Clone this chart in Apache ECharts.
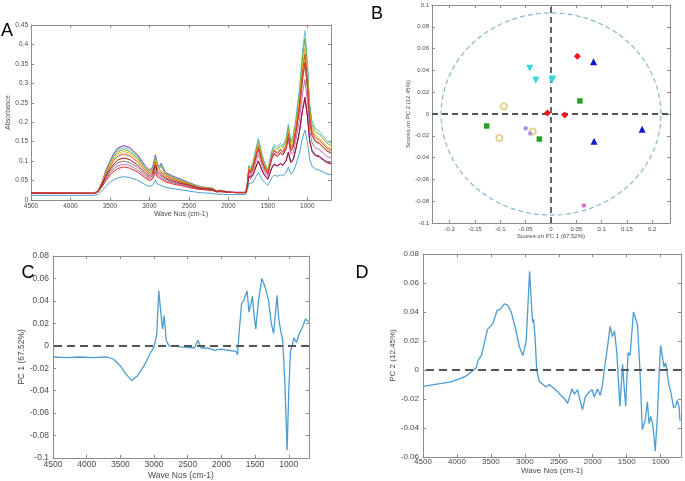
<!DOCTYPE html>
<html lang="en">
<head>
    <title>FTIR spectra and PCA</title>
    <meta charset="utf-8">
    <style>
        html, body { margin: 0; padding: 0; background: #fff; }
        #main { width: 685px; height: 481px; }
    </style>
</head>
<body>
<script type="text/javascript" src="https://cdn.jsdelivr.net/npm/echarts@6/dist/echarts.min.js"></script>
<div id="main"></div>
<script type="text/javascript">
    // ---- A: absorbance spectra (wave numbers, one array per sample) ----
    var wnA = [4500, 3700, 3650, 3600, 3550, 3500, 3450, 3400, 3330, 3250, 3150, 3050, 3000, 2960, 2925, 2900, 2870, 2850, 2800, 2700,
        2600, 2500, 2400, 2350, 2300, 2200, 2150, 2100, 2000, 1900, 1780, 1760, 1740, 1720, 1690, 1650, 1620, 1600, 1570, 1540,
        1500, 1480, 1450, 1420, 1380, 1340, 1310, 1270, 1240, 1210, 1180, 1150, 1100, 1060, 1030, 1000, 970, 940, 900, 850,
        800, 750, 700];
    var specPurple = [0.019, 0.018, 0.024, 0.047, 0.077, 0.100, 0.120, 0.133, 0.140, 0.135, 0.116, 0.087, 0.077, 0.084, 0.116, 0.092, 0.087, 0.094, 0.071, 0.061,
        0.053, 0.045, 0.037, 0.034, 0.033, 0.030, 0.024, 0.025, 0.021, 0.020, 0.020, 0.035, 0.061, 0.055, 0.064, 0.087, 0.101, 0.100, 0.075, 0.064,
        0.054, 0.057, 0.083, 0.093, 0.088, 0.094, 0.090, 0.101, 0.124, 0.098, 0.105, 0.128, 0.176, 0.235, 0.265, 0.220, 0.153, 0.128, 0.116, 0.113,
        0.105, 0.098, 0.094];
    var specCyan = [0.018, 0.017, 0.023, 0.046, 0.074, 0.097, 0.116, 0.129, 0.135, 0.130, 0.112, 0.084, 0.074, 0.082, 0.112, 0.089, 0.084, 0.091, 0.069, 0.059,
        0.051, 0.044, 0.036, 0.034, 0.032, 0.030, 0.023, 0.025, 0.020, 0.019, 0.019, 0.045, 0.089, 0.081, 0.096, 0.133, 0.159, 0.156, 0.115, 0.096,
        0.078, 0.083, 0.127, 0.143, 0.136, 0.146, 0.140, 0.159, 0.196, 0.152, 0.165, 0.203, 0.284, 0.385, 0.435, 0.360, 0.247, 0.203, 0.184, 0.177,
        0.165, 0.152, 0.146];
    var specGreen = [0.018, 0.017, 0.023, 0.045, 0.072, 0.094, 0.112, 0.124, 0.130, 0.125, 0.108, 0.081, 0.072, 0.079, 0.108, 0.086, 0.081, 0.088, 0.067, 0.057,
        0.050, 0.043, 0.035, 0.033, 0.032, 0.029, 0.023, 0.024, 0.020, 0.019, 0.019, 0.044, 0.086, 0.078, 0.092, 0.128, 0.152, 0.149, 0.110, 0.092,
        0.075, 0.080, 0.122, 0.137, 0.130, 0.140, 0.134, 0.152, 0.188, 0.146, 0.158, 0.194, 0.271, 0.367, 0.415, 0.343, 0.235, 0.194, 0.176, 0.170,
        0.158, 0.146, 0.140];
    var specYellow = [0.018, 0.017, 0.023, 0.044, 0.069, 0.090, 0.108, 0.119, 0.125, 0.120, 0.104, 0.079, 0.069, 0.076, 0.104, 0.083, 0.079, 0.084, 0.065, 0.055,
        0.048, 0.041, 0.034, 0.032, 0.031, 0.029, 0.023, 0.024, 0.020, 0.019, 0.019, 0.043, 0.082, 0.074, 0.087, 0.121, 0.143, 0.141, 0.104, 0.087,
        0.072, 0.076, 0.115, 0.130, 0.123, 0.132, 0.127, 0.143, 0.177, 0.138, 0.149, 0.183, 0.256, 0.345, 0.390, 0.323, 0.222, 0.183, 0.166, 0.160,
        0.149, 0.138, 0.132];
    var specOrange = [0.018, 0.017, 0.022, 0.042, 0.066, 0.085, 0.102, 0.113, 0.118, 0.114, 0.098, 0.075, 0.066, 0.072, 0.098, 0.079, 0.075, 0.080, 0.062, 0.053,
        0.046, 0.040, 0.033, 0.031, 0.030, 0.028, 0.022, 0.024, 0.020, 0.019, 0.019, 0.042, 0.079, 0.072, 0.085, 0.117, 0.138, 0.136, 0.101, 0.085,
        0.070, 0.074, 0.112, 0.126, 0.119, 0.128, 0.122, 0.138, 0.171, 0.133, 0.144, 0.176, 0.246, 0.332, 0.375, 0.311, 0.214, 0.176, 0.160, 0.155,
        0.144, 0.133, 0.128];
    var specDarkRed = [0.018, 0.017, 0.022, 0.040, 0.061, 0.079, 0.093, 0.103, 0.108, 0.104, 0.090, 0.069, 0.061, 0.067, 0.090, 0.073, 0.069, 0.074, 0.057, 0.049,
        0.043, 0.038, 0.032, 0.030, 0.029, 0.027, 0.022, 0.023, 0.020, 0.019, 0.019, 0.034, 0.060, 0.055, 0.063, 0.085, 0.100, 0.098, 0.074, 0.063,
        0.053, 0.056, 0.082, 0.091, 0.087, 0.093, 0.089, 0.100, 0.122, 0.096, 0.103, 0.125, 0.173, 0.231, 0.260, 0.216, 0.151, 0.125, 0.114, 0.111,
        0.103, 0.096, 0.093];
    var specBrown = [0.018, 0.017, 0.021, 0.038, 0.057, 0.073, 0.087, 0.096, 0.100, 0.096, 0.084, 0.064, 0.057, 0.062, 0.084, 0.068, 0.064, 0.069, 0.054, 0.046,
        0.041, 0.036, 0.030, 0.029, 0.028, 0.026, 0.021, 0.022, 0.020, 0.019, 0.019, 0.040, 0.075, 0.068, 0.080, 0.110, 0.130, 0.128, 0.095, 0.080,
        0.066, 0.070, 0.105, 0.118, 0.112, 0.120, 0.115, 0.130, 0.160, 0.125, 0.135, 0.165, 0.230, 0.310, 0.350, 0.290, 0.200, 0.165, 0.150, 0.145,
        0.135, 0.125, 0.120];
    var specRed = [0.018, 0.017, 0.021, 0.034, 0.050, 0.063, 0.074, 0.081, 0.085, 0.082, 0.072, 0.056, 0.050, 0.054, 0.072, 0.059, 0.056, 0.059, 0.047, 0.041,
        0.037, 0.032, 0.028, 0.027, 0.026, 0.024, 0.021, 0.021, 0.020, 0.019, 0.019, 0.040, 0.076, 0.069, 0.081, 0.111, 0.132, 0.130, 0.096, 0.081,
        0.067, 0.071, 0.106, 0.120, 0.113, 0.122, 0.116, 0.132, 0.162, 0.127, 0.137, 0.167, 0.233, 0.314, 0.355, 0.294, 0.203, 0.167, 0.152, 0.147,
        0.137, 0.127, 0.122];
    var specPink = [0.018, 0.017, 0.021, 0.036, 0.053, 0.068, 0.080, 0.088, 0.092, 0.089, 0.077, 0.060, 0.053, 0.058, 0.077, 0.063, 0.060, 0.064, 0.050, 0.044,
        0.039, 0.034, 0.029, 0.027, 0.027, 0.025, 0.021, 0.022, 0.020, 0.019, 0.019, 0.037, 0.068, 0.062, 0.073, 0.099, 0.117, 0.115, 0.086, 0.073,
        0.060, 0.064, 0.115, 0.128, 0.120, 0.130, 0.122, 0.132, 0.155, 0.120, 0.121, 0.147, 0.204, 0.275, 0.310, 0.257, 0.178, 0.147, 0.134, 0.130,
        0.121, 0.112, 0.108];
    var specLightBlue = [0.012, 0.012, 0.015, 0.024, 0.035, 0.045, 0.052, 0.057, 0.060, 0.058, 0.051, 0.039, 0.035, 0.038, 0.051, 0.041, 0.039, 0.042, 0.033, 0.029,
        0.026, 0.023, 0.020, 0.019, 0.018, 0.017, 0.015, 0.015, 0.014, 0.014, 0.014, 0.025, 0.042, 0.039, 0.045, 0.060, 0.070, 0.069, 0.052, 0.045,
        0.038, 0.040, 0.057, 0.064, 0.061, 0.065, 0.062, 0.070, 0.085, 0.067, 0.072, 0.087, 0.120, 0.160, 0.180, 0.150, 0.105, 0.087, 0.080, 0.077,
        0.072, 0.067, 0.065];

    // ---- B: PCA scores [PC1, PC2] per group ----
    var scoresRedDiamond = [[0.052, 0.053], [-0.007, 0.001], [0.027, -0.001]];
    var scoresBlueTriangle = [[0.084, 0.048], [0.085, -0.025], [0.180, -0.014]];
    var scoresCyanTriangle = [[-0.042, 0.042], [-0.030, 0.031], [0.002, 0.031], [0.003, 0.032]];
    var scoresGreenSquare = [[0.057, 0.012], [-0.127, -0.011], [-0.023, -0.023]];
    var scoresYellowCircle = [[-0.093, 0.007], [-0.036, -0.016], [-0.102, -0.022]];
    var scoresLilac = [[-0.050, -0.013], [-0.041, -0.018]];
    var scoresPink = [[0.065, -0.084]];
    var ellipseRadii = [0.217, 0.0927];   // 95% limit, PC1 / PC2

    // ---- C / D: loadings ----
    var wnC = [4500, 4300, 4100, 3900, 3700, 3600, 3500, 3420, 3330, 3250, 3150, 3050, 3000, 2960, 2930, 2900, 2875, 2850, 2820, 2780,
        2600, 2400, 2350, 2300, 2200, 2180, 2100, 2000, 1900, 1780, 1760, 1740, 1700, 1670, 1620, 1590, 1540, 1520, 1490, 1450,
        1400, 1380, 1340, 1300, 1260, 1225, 1175, 1150, 1120, 1090, 1060, 1025, 1000, 975, 950, 925, 885, 850, 800, 785,
        750, 720, 700];
    var pc1Loading = [-0.010, -0.0105, -0.0100, -0.0105, -0.0100, -0.012, -0.018, -0.025, -0.031, -0.027, -0.018, -0.006, -0.001, 0.010, 0.049, 0.030, 0.015, 0.027, 0.005, 0.000,
        -0.001, -0.002, 0.005, -0.002, -0.002, -0.001, -0.004, -0.003, -0.004, -0.005, -0.008, 0.010, 0.038, 0.040, 0.049, 0.030, 0.044, 0.030, 0.015, 0.040,
        0.060, 0.057, 0.050, 0.040, 0.020, 0.011, 0.045, 0.025, 0.013, 0.005, -0.030, -0.093, -0.040, -0.005, 0.000, 0.007, 0.003, 0.010, 0.016, 0.017,
        0.024, 0.022, 0.022];
    var wnD = [4500, 4250, 4100, 3950, 3850, 3760, 3715, 3690, 3640, 3600, 3550, 3470, 3410, 3360, 3300, 3250, 3200, 3130, 3080, 3030,
        2980, 2930, 2900, 2885, 2870, 2850, 2825, 2785, 2690, 2640, 2540, 2395, 2370, 2305, 2270, 2225, 2200, 2150, 2110, 2050,
        2010, 1980, 1930, 1890, 1855, 1830, 1780, 1745, 1710, 1680, 1645, 1600, 1560, 1540, 1515, 1480, 1450, 1400, 1340, 1305,
        1270, 1230, 1195, 1170, 1145, 1110, 1080, 1045, 1020, 1000, 950, 925, 875, 850, 810, 780, 755, 730, 715];
    var pc2Loading = [-0.0113, -0.0094, -0.0083, -0.006, -0.0037, -0.0002, 0.0016, 0.0067, 0.010, 0.018, 0.028, 0.032, 0.041, 0.042, 0.0457, 0.0446, 0.040, 0.027, 0.016, 0.010,
        0.020, 0.068, 0.043, 0.033, 0.035, 0.023, 0.000, -0.008, -0.0117, -0.010, -0.014, -0.021, -0.023, -0.0129, -0.0168, -0.0136, -0.0186, -0.0274, -0.0186, -0.015,
        -0.0136, -0.0186, -0.0131, -0.0175, -0.010, 0.000, 0.017, 0.030, 0.023, 0.027, 0.012, -0.025, 0.004, -0.010, -0.025, 0.012, 0.010, 0.040, 0.031, 0.000,
        -0.041, -0.035, -0.022, -0.037, -0.032, -0.039, -0.056, -0.030, 0.000, 0.017, 0.002, 0.005, -0.011, -0.015, -0.026, -0.025, -0.021, -0.025, -0.035];

    // tick labels
    var wnTicks = [4500, 4000, 3500, 3000, 2500, 2000, 1500, 1000];
    var pc1Ticks = [-0.2, -0.15, -0.1, -0.05, 0, 0.05, 0.1, 0.15, 0.2];

    var FONT = 'Liberation Sans, Arial, sans-serif';
    var AXIS_COLOR = '#8c8c8c';
    var LABEL_COLOR = '#4a4a4a';

    function pairs(xs, ys) {
        return xs.map(function (x, i) { return [x, ys[i]]; });
    }

    // main axis + a mirrored one so the box has ticks on all four sides (matlab look)
    function axisPair(dim, gi, r, fs, name, nameGap, nameSize) {
        var list = [];
        [false, true].forEach(function (mirror) {
            var a = {
                type: 'value', gridIndex: gi,
                position: dim === 'x' ? (mirror ? 'top' : 'bottom') : (mirror ? 'right' : 'left'),
                min: r.min, max: r.max, inverse: !!r.inverse,
                axisLine: {show: true, onZero: false, lineStyle: {color: AXIS_COLOR, width: 1}},
                axisTick: {show: true, inside: true, length: 3, lineStyle: {color: AXIS_COLOR, width: 1}},
                axisLabel: {
                    show: !mirror, color: LABEL_COLOR, fontSize: fs, fontFamily: FONT, margin: r.margin || 3,
                    formatter: function (v) { return String(v); }
                },
                splitLine: {show: false}
            };
            if (r.ticks) {
                a.axisTick.customValues = r.ticks;
                a.axisLabel.customValues = r.ticks;
            } else {
                a.interval = r.interval;
            }
            if (!mirror) {
                a.name = name;
                a.nameLocation = 'middle';
                a.nameGap = nameGap;
                a.nameTextStyle = {color: LABEL_COLOR, fontSize: nameSize, fontFamily: FONT};
            }
            list.push(a);
        });
        return list;
    }

    var xAxes = [].concat(
        axisPair('x', 0, {min: 700, max: 4500, inverse: true, ticks: wnTicks}, 6.5, 'Wave Nos (cm-1)', 10, 7),
        axisPair('x', 1, {min: -0.235, max: 0.235, ticks: pc1Ticks}, 6, 'Scores on PC 1 (67.52%)', 9, 6),
        axisPair('x', 2, {min: 700, max: 4500, inverse: true, ticks: wnTicks, margin: 2}, 8.5, 'Wave Nos (cm-1)', 13, 8.5),
        axisPair('x', 3, {min: 700, max: 4500, inverse: true, ticks: wnTicks, margin: 1}, 8, 'Wave Nos (cm-1)', 7, 8)
    );
    var yAxes = [].concat(
        axisPair('y', 0, {min: 0, max: 0.45, interval: 0.05}, 6.5, 'Absorbance', 18, 6.5),
        axisPair('y', 1, {min: -0.1, max: 0.1, interval: 0.02}, 6, 'Scores on PC 2 (12.45%)', 15, 6),
        axisPair('y', 2, {min: -0.1, max: 0.08, interval: 0.02, margin: 4}, 8.5, 'PC 1 (67.52%)', 22, 8.5),
        axisPair('y', 3, {min: -0.06, max: 0.08, interval: 0.02, margin: 4}, 8, 'PC 2 (12.45%)', 21, 8)
    );

    var spectra = [
        {d: specLightBlue, c: '#4f9fd6'},
        {d: specPurple, c: '#7E2F8E'},
        {d: specCyan, c: '#5cc6d8'},
        {d: specGreen, c: '#77AC30'},
        {d: specYellow, c: '#EDB120'},
        {d: specOrange, c: '#D95319'},
        {d: specBrown, c: '#8c7b55'},
        {d: specPink, c: '#c070c0'},
        {d: specDarkRed, c: '#A2142F'},
        {d: specRed, c: '#e3332b'}
    ];
    var series = spectra.map(function (s) {
        return {
            type: 'line', xAxisIndex: 0, yAxisIndex: 0, symbol: 'none', silent: true,
            lineStyle: {color: s.c, width: 1}, data: pairs(wnA, s.d)
        };
    });

    function scores(data, symbol, size, color, extra) {
        var s = {
            type: 'scatter', xAxisIndex: 2, yAxisIndex: 2, symbol: symbol, symbolSize: size,
            itemStyle: {color: color, opacity: 1}, data: data, z: 5
        };
        for (var k in extra) s[k] = extra[k];
        return s;
    }

    series.push({
        type: 'custom', xAxisIndex: 2, yAxisIndex: 2, silent: true, data: [[0, 0]],
        renderItem: function (params, api) {
            var pts = [];
            for (var k = 0; k <= 120; k++) {
                var t = k / 120 * Math.PI * 2;
                pts.push(api.coord([api.value(0) + ellipseRadii[0] * Math.cos(t), api.value(1) + ellipseRadii[1] * Math.sin(t)]));
            }
            return {
                type: 'polyline', shape: {points: pts},
                style: {stroke: '#8cb6cd', fill: null, lineWidth: 1.2, lineDash: [5, 3]}
            };
        }
    });
    series.push(scores(scoresRedDiamond, 'diamond', 7, '#f0141e', {
        markLine: {
            silent: true, symbol: 'none', label: {show: false},
            lineStyle: {color: '#555', type: [6, 4], width: 1.8},
            data: [{xAxis: 0}, {yAxis: 0}]
        }
    }));
    series.push(scores(scoresBlueTriangle, 'triangle', 7, '#1414c8'));
    series.push(scores(scoresCyanTriangle, 'triangle', 7, '#2fd9d9', {symbolRotate: 180}));
    series.push(scores(scoresGreenSquare, 'rect', 5.5, '#2aa02a'));
    series.push(scores(scoresYellowCircle, 'emptyCircle', 6, '#e0c878', {itemStyle: {color: '#e0c878', borderWidth: 1.4}}));
    series.push(scores(scoresLilac, 'circle', 4.5, '#b890e0'));
    series.push(scores(scoresPink, 'circle', 4.5, '#e070c8'));

    var zeroLine = {
        silent: true, symbol: 'none', label: {show: false},
        lineStyle: {color: '#555', type: [8, 5], width: 2},
        data: [{yAxis: 0}]
    };
    series.push({
        type: 'line', xAxisIndex: 4, yAxisIndex: 4, symbol: 'none', silent: true,
        lineStyle: {color: '#4b9cd3', width: 1.3}, data: pairs(wnC, pc1Loading), markLine: zeroLine
    });
    series.push({
        type: 'line', xAxisIndex: 6, yAxisIndex: 6, symbol: 'none', silent: true,
        lineStyle: {color: '#4b9cd3', width: 1.3}, data: pairs(wnD, pc2Loading), markLine: zeroLine
    });

    function letter(t, x, y) {
        return {
            type: 'text', x: x, y: y,
            style: {text: t, fontSize: 18, fontFamily: FONT, fill: '#000', textAlign: 'center', textVerticalAlign: 'middle'}
        };
    }

    var option = {
        animation: false,
        backgroundColor: '#fff',
        grid: [
            {left: 31, top: 25, width: 300, height: 175, containLabel: false, outerBoundsMode: 'none'},
            {left: 432, top: 5, width: 238, height: 218, containLabel: false, outerBoundsMode: 'none'},
            {left: 53, top: 256, width: 256, height: 202, containLabel: false, outerBoundsMode: 'none'},
            {left: 423, top: 254, width: 258, height: 203, containLabel: false, outerBoundsMode: 'none'}
        ],
        xAxis: xAxes,
        yAxis: yAxes,
        series: series,
        graphic: [letter('A', 7, 31), letter('B', 377, 14), letter('C', 28, 273), letter('D', 362, 273)]
    };
    var chart = echarts.init(document.getElementById('main'));
    chart.setOption(option);
</script>
</body>
</html>
